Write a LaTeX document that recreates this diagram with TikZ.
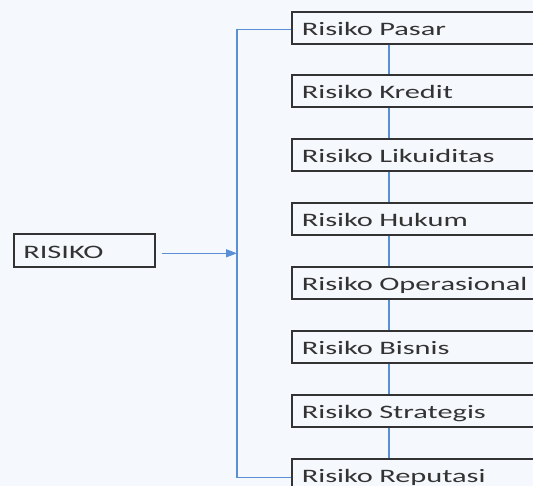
\documentclass[tikz,border=0pt]{standalone}
\usepackage{fontspec}
\newfontfamily\boxfont[FakeStretch=1.6]{Carlito}
\usetikzlibrary{arrows.meta}
\definecolor{bg}{HTML}{F5F8FC}
\definecolor{conncol}{HTML}{5B8FD3}
\definecolor{boxcol}{HTML}{333333}
\definecolor{txtcol}{HTML}{333333}
\tikzset{
  riskbox/.style={draw=boxcol, line width=1.6pt, fill=bg, anchor=north west,
    text width=230pt, align=left, inner xsep=10pt, inner ysep=0pt,
    minimum height=32pt, text height=21pt, text depth=5pt,
    font=\boxfont\fontsize{19}{22}\selectfont, text=txtcol},
  rootbox/.style={riskbox, text width=122pt, inner xsep=9.5pt, minimum height=33pt},
  conn/.style={draw=conncol, line width=1.2pt}
}
\begin{document}
\begin{tikzpicture}[x=1pt,y=-1pt]
\fill[bg] (0,0) rectangle (533,486);
\useasboundingbox (0,0) rectangle (533,486);
\clip (0,0) rectangle (533,486);
\coordinate (cx) at (389,0);
\coordinate (brk) at (237,0);
\node[rootbox] (risiko) at (13,233) {RISIKO};
\node[riskbox] (p1) at (291,11) {Risiko Pasar};
\node[riskbox] (p2) at (291,74) {Risiko Kredit};
\node[riskbox] (p3) at (291,138) {Risiko Likuiditas};
\node[riskbox] (p4) at (291,202) {Risiko Hukum};
\node[riskbox] (p5) at (291,266) {Risiko Operasional};
\node[riskbox] (p6) at (291,330) {Risiko Bisnis};
\node[riskbox] (p7) at (291,394) {Risiko Strategis};
\node[riskbox] (p8) at (291,458) {Risiko Reputasi};
\foreach \a/\b in {p1/p2,p2/p3,p3/p4,p4/p5,p5/p6,p6/p7,p7/p8}
  \draw[conn] (\a.south -| cx) -- (\b.north -| cx);
\draw[conn] ([yshift=-2pt]p1.west) -- ([yshift=-2pt]p1.west -| brk)
  -- ([yshift=-3pt]p8.west -| brk) -- ([yshift=-3pt]p8.west);
\draw[conn, -{Triangle[length=11pt,width=8pt]}, shorten <=6pt]
  ([yshift=-3pt]risiko.east) -- ([yshift=-3pt]risiko.east -| brk);
\end{tikzpicture}
\end{document}
